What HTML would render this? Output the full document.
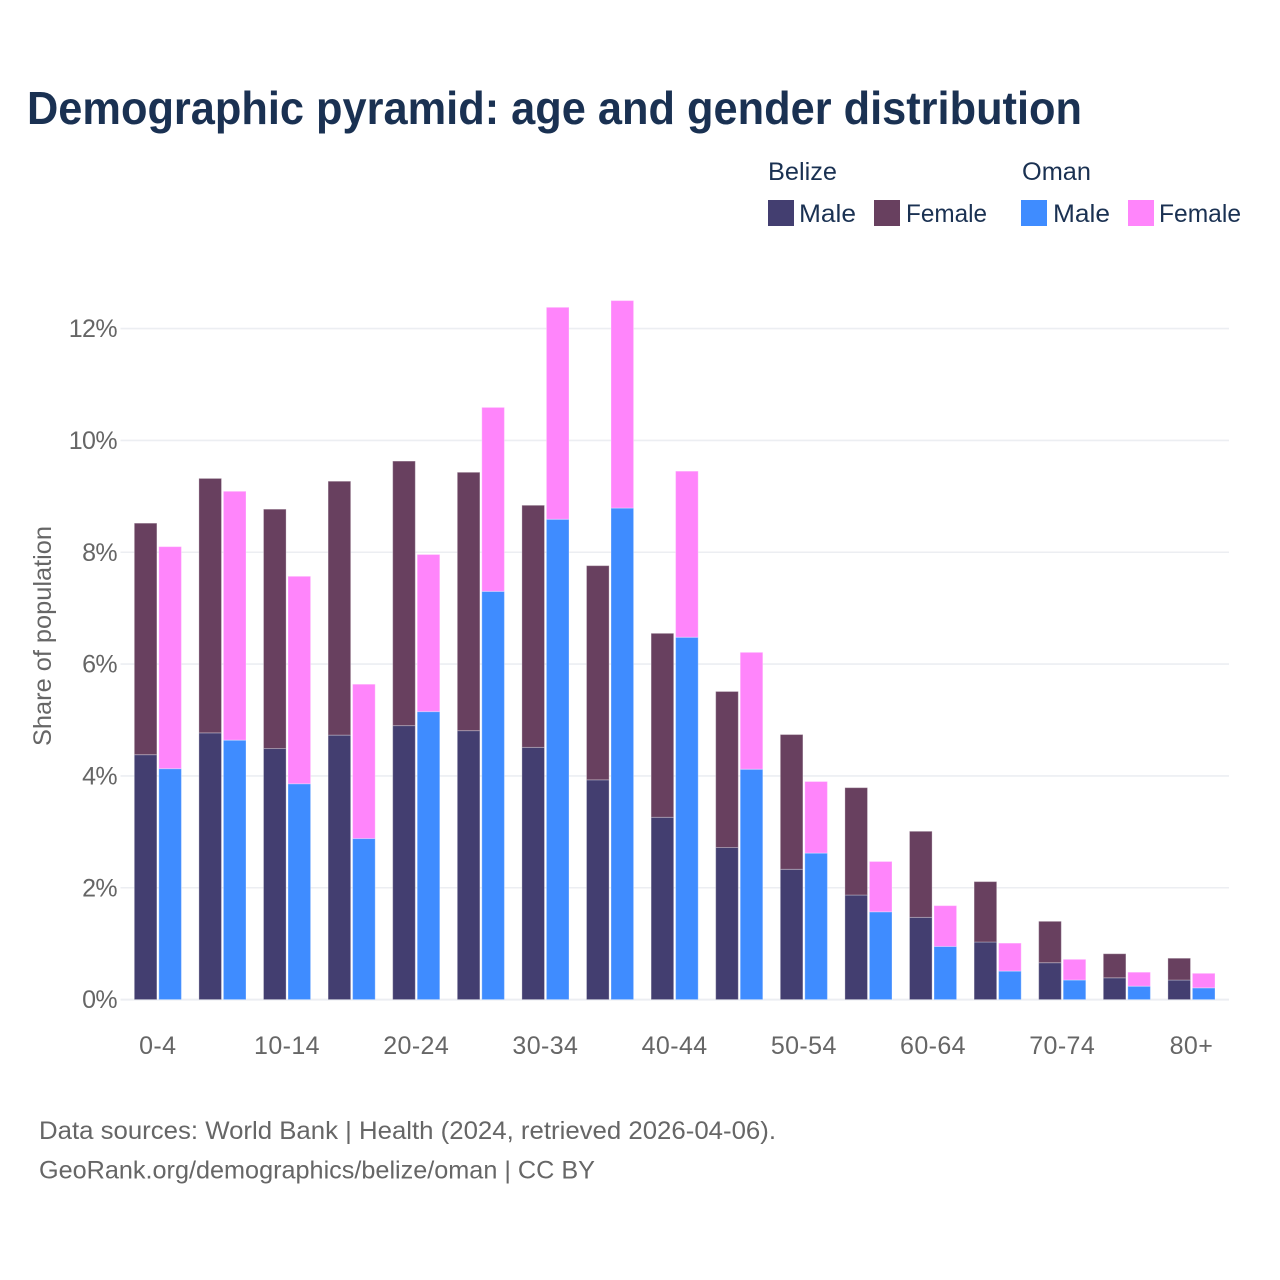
<!DOCTYPE html>
<html lang="en">
<head>
<meta charset="utf-8">
<title>Demographic pyramid</title>
<style>
html,body{margin:0;padding:0;background:#fff;}
svg{display:block;}
text{font-family:"Liberation Sans",sans-serif;}
</style>
</head>
<body>
<svg id="chart" xmlns="http://www.w3.org/2000/svg" width="1280" height="1280" viewBox="0 0 1280 1280">
  <rect width="1280" height="1280" fill="#ffffff"/>
  <text x="27" y="124" font-size="46" font-weight="700" fill="#1a3152" textLength="1055" lengthAdjust="spacingAndGlyphs">Demographic pyramid: age and gender distribution</text>

  <g font-size="25" fill="#1a3152">
    <text x="768" y="180" textLength="69" lengthAdjust="spacingAndGlyphs">Belize</text>
    <text x="1022" y="180" textLength="69" lengthAdjust="spacingAndGlyphs">Oman</text>
    <rect x="768" y="200" width="26" height="26" fill="#433e70"/>
    <text x="799" y="222" textLength="57" lengthAdjust="spacingAndGlyphs">Male</text>
    <rect x="874" y="200" width="26" height="26" fill="#68405f"/>
    <text x="906" y="222" textLength="81" lengthAdjust="spacingAndGlyphs">Female</text>
    <rect x="1021" y="200" width="26" height="26" fill="#3f8cff"/>
    <text x="1053" y="222" textLength="57" lengthAdjust="spacingAndGlyphs">Male</text>
    <rect x="1128" y="200" width="26" height="26" fill="#ff85fb"/>
    <text x="1159" y="222" textLength="82" lengthAdjust="spacingAndGlyphs">Female</text>
  </g>

  <g id="grid"></g>
  <g id="bars"></g>
  <g id="yticks"></g>
  <g id="xticks"></g>

  <text transform="translate(51,636) rotate(-90)" text-anchor="middle" font-size="25" fill="#666666" textLength="220" lengthAdjust="spacingAndGlyphs">Share of population</text>

  <text x="39" y="1139" font-size="25" fill="#666666" textLength="737" lengthAdjust="spacingAndGlyphs">Data sources: World Bank | Health (2024, retrieved 2026-04-06).</text>
  <text x="39" y="1178.5" font-size="25" fill="#666666" textLength="556" lengthAdjust="spacingAndGlyphs">GeoRank.org/demographics/belize/oman | CC BY</text>
</svg>
<script>
const categories = ["0-4","5-9","10-14","15-19","20-24","25-29","30-34","35-39","40-44","45-49","50-54","55-59","60-64","65-69","70-74","75-79","80+"];
const xTickLabels = ["0-4","10-14","20-24","30-34","40-44","50-54","60-64","70-74","80+"];
const yTickValues = [0,2,4,6,8,10,12];
const belizeMale = [4.38,4.77,4.49,4.73,4.90,4.81,4.51,3.93,3.26,2.72,2.33,1.87,1.47,1.03,0.66,0.39,0.35];
const belizeFemale = [4.14,4.55,4.28,4.54,4.73,4.62,4.33,3.83,3.29,2.79,2.41,1.92,1.54,1.08,0.74,0.43,0.39];
const omanMale = [4.13,4.64,3.86,2.88,5.15,7.30,8.59,8.79,6.48,4.12,2.62,1.57,0.95,0.51,0.35,0.24,0.21];
const omanFemale = [3.97,4.45,3.71,2.76,2.81,3.29,3.79,3.71,2.97,2.09,1.28,0.90,0.73,0.50,0.37,0.25,0.26];

const NS = "http://www.w3.org/2000/svg";
const y = v => 999.6 - v * 55.92;
const step = 64.6;
const bandCenter = i => 157.8 + i * step;
const barW = 22.6;

function make(tag, parent, attrs) {
  const el = document.createElementNS(NS, tag);
  Object.keys(attrs).forEach(k => el.setAttribute(k, attrs[k]));
  parent.appendChild(el);
  return el;
}

const gridG = document.getElementById("grid");
const yG = document.getElementById("yticks");
yTickValues.forEach(v => {
  const line = make("line", gridG, {x1:120.5, x2:1229, y1:y(v), y2:y(v), stroke:"#eceef2", "stroke-width":v === 0 ? 2 : 1.6});
  
  
  const t = make("text", yG, {x:117, y:y(v) + 8.6, "text-anchor":"end", "font-size":25, fill:"#666666", "letter-spacing":-0.6});
  t.textContent = v + "%";
  
  
});

const xG = document.getElementById("xticks");
xTickLabels.forEach(label => {
  const i = categories.indexOf(label);
  const t = make("text", xG, {x:bandCenter(i), y:1054, "text-anchor":"middle", "font-size":25, fill:"#666666", "letter-spacing":0.4});
  t.textContent = label;
  
  
});

const barsG = document.getElementById("bars");
function segment(x, v0, v1, fill) {
  const r = make("rect", barsG, {x:x, y:y(v1), width:barW, height:y(v0) - y(v1), fill:fill, stroke:"#ffffff", "stroke-opacity":0.3, "stroke-width":1});
  return r;
}
categories.forEach((c, i) => {
  const cx = bandCenter(i);
  const bx = cx - 23.5;
  const ox = cx + 1;
  const a = segment(bx, 0, belizeMale[i], "#433e70");
  
  
  const b = segment(bx, belizeMale[i], belizeMale[i] + belizeFemale[i], "#68405f");
  
  
  const d = segment(ox, 0, omanMale[i], "#3f8cff");
  
  
  const e = segment(ox, omanMale[i], omanMale[i] + omanFemale[i], "#ff85fb");
  
  
});
</script>
</body>
</html>
